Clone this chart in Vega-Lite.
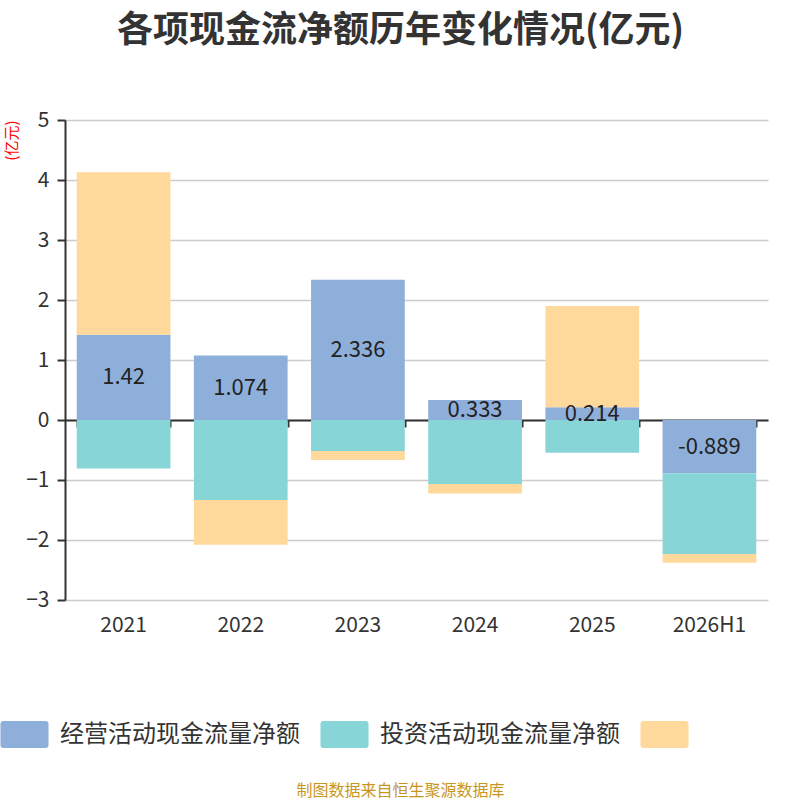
{
  "$schema": "https://vega.github.io/schema/vega-lite/v6.json",
  "width": 703,
  "height": 480,
  "autosize": {"type": "none"},
  "padding": {"left": 65, "top": 120, "right": 32, "bottom": 200},
  "background": "#ffffff",
  "config": {
    "font": "Noto Sans CJK SC",
    "view": {"stroke": null}
  },
  "title": {
    "text": "各项现金流净额历年变化情况(亿元)",
    "fontSize": 36,
    "fontWeight": "bold",
    "color": "#333333",
    "anchor": "middle",
    "dx": -16,
    "offset": 59
  },
  "data": {
    "values": [
      {"year": "2021", "series": "经营活动现金流量净额", "value": 1.42},
      {"year": "2021", "series": "投资活动现金流量净额", "value": -0.81},
      {"year": "2021", "series": "筹资活动现金流量净额", "value": 2.71},
      {"year": "2022", "series": "经营活动现金流量净额", "value": 1.074},
      {"year": "2022", "series": "投资活动现金流量净额", "value": -1.333},
      {"year": "2022", "series": "筹资活动现金流量净额", "value": -0.745},
      {"year": "2023", "series": "经营活动现金流量净额", "value": 2.336},
      {"year": "2023", "series": "投资活动现金流量净额", "value": -0.517},
      {"year": "2023", "series": "筹资活动现金流量净额", "value": -0.15},
      {"year": "2024", "series": "经营活动现金流量净额", "value": 0.333},
      {"year": "2024", "series": "投资活动现金流量净额", "value": -1.067},
      {"year": "2024", "series": "筹资活动现金流量净额", "value": -0.16},
      {"year": "2025", "series": "经营活动现金流量净额", "value": 0.214},
      {"year": "2025", "series": "投资活动现金流量净额", "value": -0.545},
      {"year": "2025", "series": "筹资活动现金流量净额", "value": 1.686},
      {"year": "2026H1", "series": "经营活动现金流量净额", "value": -0.889},
      {"year": "2026H1", "series": "投资活动现金流量净额", "value": -1.345},
      {"year": "2026H1", "series": "筹资活动现金流量净额", "value": -0.145}
    ]
  },
  "transform": [
    {"calculate": "indexof(['经营活动现金流量净额', '投资活动现金流量净额', '筹资活动现金流量净额'], datum.series)", "as": "rank"}
  ],
  "resolve": {"axis": {"x": "independent"}},
  "layer": [
    {
      "mark": {"type": "bar"},
      "encoding": {
        "x": {
          "field": "year",
          "type": "nominal",
          "sort": null,
          "scale": {"paddingInner": 0.2, "paddingOuter": 0.1},
          "axis": {
            "orient": "bottom",
            "title": "制图数据来自恒生聚源数据库",
            "titleColor": "#c8961e",
            "titleFontSize": 16,
            "titleFontWeight": "normal",
            "titleX": 335,
            "titleY": 190,
            "titleBaseline": "middle",
            "domain": false,
            "ticks": false,
            "labelAngle": 0,
            "labelFontSize": 21,
            "labelColor": "#333333",
            "labelPadding": 14,
            "labelBaseline": "top"
          }
        },
        "y": {
          "field": "value",
          "type": "quantitative",
          "stack": "zero",
          "scale": {"domain": [-3, 5], "nice": false},
          "axis": {
            "title": "(亿元)",
            "titleColor": "#ff0000",
            "titleFontSize": 15,
            "titleFontWeight": "normal",
            "titleAnchor": "end",
            "titleX": -54,
            "titleY": 0,
            "titleAlign": "right",
            "titleBaseline": "middle",
            "values": [-3, -2, -1, 0, 1, 2, 3, 4, 5],
            "format": "d",
            "domainColor": "#333333",
            "domainWidth": 2,
            "tickColor": "#333333",
            "tickWidth": 2,
            "tickSize": 8,
            "labelFontSize": 21,
            "labelColor": "#333333",
            "labelPadding": 8,
            "gridColor": "#cccccc",
            "gridWidth": 1.5
          }
        },
        "color": {
          "field": "series",
          "type": "nominal",
          "scale": {
            "domain": ["经营活动现金流量净额", "投资活动现金流量净额", "筹资活动现金流量净额"],
            "range": ["#8fafdb", "#88d5d8", "#fed99b"]
          },
          "legend": {
            "title": null,
            "orient": "none",
            "direction": "horizontal",
            "legendX": -54,
            "legendY": 601,
            "symbolType": "M-1.6,-1 H1.6 A0.2,0.2 0 0 1 1.78,-0.8 V0.8 A0.2,0.2 0 0 1 1.6,1 H-1.6 A0.2,0.2 0 0 1 -1.78,0.8 V-0.8 A0.2,0.2 0 0 1 -1.6,-1 Z",
            "symbolSize": 729,
            "symbolStrokeWidth": 0,
            "symbolOpacity": 1,
            "labelFontSize": 24,
            "labelLimit": 400,
            "labelColor": "#333333",
            "labelOffset": 22,
            "columnPadding": 20,
            "labelExpr": "datum.label == '筹资活动现金流量净额' ? '' : datum.label"
          }
        },
        "order": {"field": "rank", "type": "quantitative"}
      }
    },
    {
      "mark": {"type": "rule", "color": "#333333", "strokeWidth": 2},
      "encoding": {
        "x": {
          "field": "year",
          "type": "nominal",
          "sort": null,
          "axis": {
            "orient": "bottom",
            "title": null,
            "labels": false,
            "domain": true,
            "domainColor": "#333333",
            "domainWidth": 2,
            "ticks": true,
            "tickBand": "extent",
            "tickColor": "#333333",
            "tickWidth": 2,
            "tickSize": 7,
            "offset": -180,
            "grid": false
          }
        },
        "y": {"datum": 0},
        "opacity": {"value": 0}
      }
    },
    {
      "transform": [
        {"filter": "datum.series == '经营活动现金流量净额'"},
        {"calculate": "datum.value / 2", "as": "mid"}
      ],
      "mark": {"type": "text", "fontSize": 22, "color": "#222222", "baseline": "middle"},
      "encoding": {
        "x": {"field": "year", "type": "nominal", "sort": null, "axis": null},
        "y": {"field": "mid", "type": "quantitative"},
        "text": {"field": "value", "type": "nominal"}
      }
    }
  ]
}
